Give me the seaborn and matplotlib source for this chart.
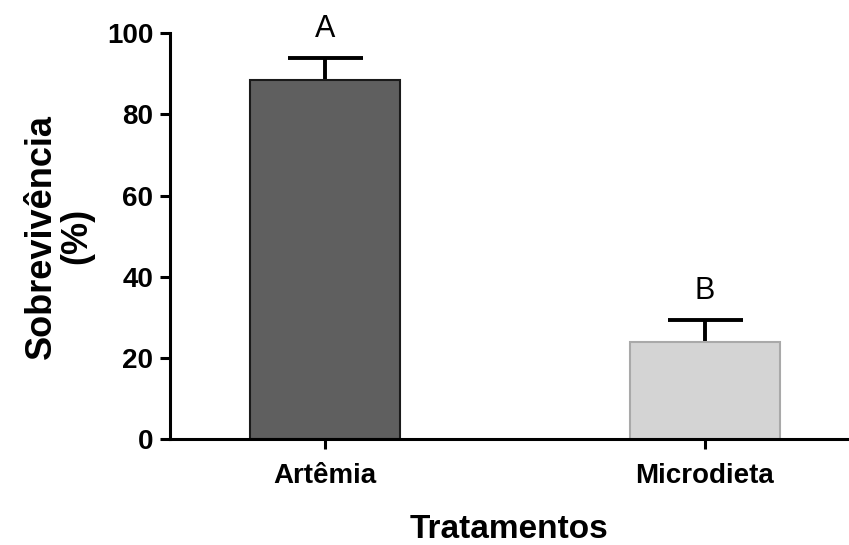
import numpy as np
import pandas as pd
import seaborn as sns
import matplotlib.pyplot as plt

# data
tratamentos = ["Artêmia", "Microdieta"]
sobrevivencia = [88.4, 23.9]
desvio = [5.5, 5.4]
letras = ["A", "B"]
cores = ["#5f5f5f", "#d4d4d4"]
bordas = ["#1a1a1a", "#a9a9a9"]

df = pd.DataFrame({"trat": tratamentos, "sob": sobrevivencia})

sns.set_style("white")
plt.rcParams['font.family'] = ['Liberation Sans', 'DejaVu Sans']

fig = plt.figure(figsize=(8.49, 5.45), dpi=100)
ax = fig.add_axes([0.200, 0.1945, 0.800, 0.7445])

sns.barplot(data=df, x="trat", y="sob", hue="trat", palette=cores,
            width=0.395, legend=False, ax=ax, errorbar=None, zorder=2)
for p, ec in zip(ax.patches, bordas):
    p.set_edgecolor(ec)
    p.set_linewidth(1.5)
    p.set_zorder(2)

# symmetric bars, lower half hidden behind the bar
x = np.arange(len(tratamentos))
ax.errorbar(x, sobrevivencia, yerr=desvio, fmt="none", ecolor="black",
            elinewidth=2.8, capsize=27, capthick=2.8, zorder=1)
for xi, v, d, l in zip(x, sobrevivencia, desvio, letras):
    ax.text(xi, v + d + 3.5, l, ha="center", va="bottom", fontsize=22,
            color="black")

ax.set_ylim(0, 100)
ax.set_xlim(-0.408, 1.38)
ax.set_yticks([0, 20, 40, 60, 80, 100])
ax.set_xlabel("Tratamentos", fontsize=24, fontweight="bold", labelpad=18,
              color="black")
ax.set_ylabel("Sobrevivência\n(%)", fontsize=26, fontweight="bold",
              labelpad=9, color="black", linespacing=1.0)
sns.despine(ax=ax, top=True, right=True)
for s in ["left", "bottom"]:
    ax.spines[s].set_linewidth(2.2)
    ax.spines[s].set_color("black")
ax.tick_params(axis="both", direction="out", length=7, width=2.2,
               colors="black", labelsize=20, left=True, bottom=True)
ax.tick_params(axis="y", pad=5)
ax.tick_params(axis="x", pad=10)
for t in ax.get_xticklabels() + ax.get_yticklabels():
    t.set_fontweight("bold")

fig.savefig("out.png", dpi=100)
